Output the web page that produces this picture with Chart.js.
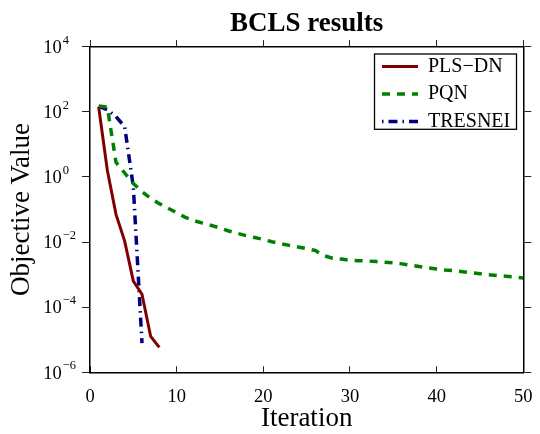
<!DOCTYPE html>
<html><head><meta charset="utf-8">
<script src="https://cdn.jsdelivr.net/npm/chart.js@4.4.1/dist/chart.umd.min.js"></script>
<style>html,body{margin:0;padding:0;background:#fff}#wrap{width:540px;height:434px}</style>
</head><body><div id="wrap"><canvas id="c" width="540" height="434"></canvas></div>
<script>
// ---- data ----
const seriesLabels = ['PLS\u2212DN', 'PQN', 'TRESNEI'];

const plsIter   = [1, 2, 3, 4, 5, 6, 7, 8];
const plsValues = [141, 1.6, 0.071, 0.0107, 6.3e-4, 2.5e-4, 1.26e-5, 5.8e-6];

const pqnIter = [1, 2, 3, 4, 5, 6, 7, 8, 9, 10,
                 11, 12, 13, 14, 15, 16, 17, 18, 19, 20,
                 21, 22, 23, 24, 25, 26, 27, 28, 29, 30,
                 31, 32, 33, 34, 35, 36, 37, 38, 39, 40,
                 41, 42, 43, 44, 45, 46, 47, 48, 49, 50];
const pqnValues = [151, 140, 2.8, 1.32, 0.63, 0.355, 0.219, 0.151, 0.110, 0.0794,
                   0.0575, 0.0457, 0.0380, 0.0324, 0.0269, 0.0219, 0.0186, 0.0158, 0.0138, 0.0120,
                   0.0102, 0.0089, 0.0079, 0.0071, 0.0063, 0.0055, 0.0038, 0.0032, 0.0030, 0.00275,
                   0.00269, 0.00263, 0.00251, 0.00240, 0.00229, 0.00214, 0.00195, 0.00178, 0.00162, 0.00148,
                   0.00138, 0.00132, 0.00123, 0.00115, 0.00107, 0.00100, 0.00093, 0.00089, 0.00085, 0.00079];

const tresIter   = [1, 2, 3, 4, 5, 6];
const tresValues = [148, 117, 71, 35, 0.5, 7.9e-6];

const xTicks = [0, 10, 20, 30, 40, 50];
const yTickValues = [1e-6, 1e-4, 1e-2, 1, 1e2, 1e4];
const yTickExponents = ['\u22126', '\u22124', '\u22122', '0', '2', '4'];

// ---- chart ----
const serif = "'Liberation Serif', 'Times New Roman', serif";
const pts = (xs, ys) => xs.map((x, i) => ({x: x, y: ys[i]}));

const yLabelPlugin = {
  id: 'yLabels',
  afterDraw(chart) {
    const s = chart.scales.y, ctx = chart.ctx;
    ctx.save();
    ctx.fillStyle = '#000';
    ctx.textAlign = 'left';
    ctx.textBaseline = 'alphabetic';
    s.ticks.forEach((t, i) => {
      const py = s.getPixelForValue(t.value);
      const x0 = s.right - 46.7;
      ctx.font = '18.5px ' + serif;
      ctx.fillText('10', x0, py + 6.3);
      const w = ctx.measureText('10').width;
      ctx.font = '12.5px ' + serif;
      ctx.fillText(yTickExponents[i], x0 + w + 1, py - 3);
    });
    ctx.restore();
  }
};

const legendPlace = {
  id: 'legendPlace',
  afterLayout(chart) {
    const lg = chart.legend;
    if (!lg) return;
    const ca = chart.chartArea;
    lg.left = ca.right - 148.8;
    lg.top = ca.top + 2.3;
    lg.width = 146; lg.height = 90;
    lg.right = lg.left + lg.width;
    lg.bottom = lg.top + lg.height;
  },
  afterDraw(chart) {
    const lg = chart.legend, ctx = chart.ctx;
    ctx.save();
    ctx.strokeStyle = '#000';
    ctx.lineWidth = 1.3;
    ctx.setLineDash([]);
    ctx.strokeRect(lg.left, lg.top + 5, 142, 75.3);
    ctx.restore();
  }
};

const legendDashOffsets = [0, 0, 14];
const makeLegendItems = (chart) => {
  const items = Chart.defaults.plugins.legend.labels.generateLabels(chart);
  items.forEach(it => {
    const ds = chart.data.datasets[it.datasetIndex];
    it.lineDash = ds.borderDash || [];
    it.lineDashOffset = legendDashOffsets[it.datasetIndex];
    it.lineWidth = ds.borderWidth;
    it.strokeStyle = ds.borderColor;
    it.fillStyle = ds.borderColor;
    it.lineCap = 'butt';
    it.pointStyle = 'line';
  });
  return items;
};

const axisBorder = {display: true, color: '#000', width: 1.5};
const tickGrid = (len) => ({drawOnChartArea: false, drawTicks: true, tickLength: len, color: '#222', lineWidth: 1});

new Chart(document.getElementById('c'), {
  type: 'line',
  data: {
    datasets: [
      {label: seriesLabels[0], data: pts(plsIter, plsValues), borderColor: '#800000', backgroundColor: '#800000',
       borderWidth: 3, pointRadius: 0, fill: false, tension: 0},
      {label: seriesLabels[1], data: pts(pqnIter, pqnValues), borderColor: '#008000', backgroundColor: '#008000',
       borderWidth: 3.5, borderDash: [8, 7], pointRadius: 0, fill: false, tension: 0},
      {label: seriesLabels[2], data: pts(tresIter, tresValues), borderColor: '#000080', backgroundColor: '#000080',
       borderWidth: 3.5, borderDash: [9, 5, 1.5, 5], pointRadius: 0, fill: false, tension: 0}
    ]
  },
  options: {
    responsive: false,
    animation: false,
    devicePixelRatio: 1,
    layout: {padding: 0},
    plugins: {
      title: {display: true, text: 'BCLS results', fullSize: false, color: '#000',
              font: {family: serif, size: 27, weight: 'bold', lineHeight: 1.2}, padding: {top: 7.7, bottom: 0}},
      legend: {position: 'chartArea', align: 'start',
               labels: {usePointStyle: true, pointStyle: 'line', pointStyleWidth: 36, boxHeight: 20,
                        font: {family: serif, size: 20}, color: '#000', padding: 7.5,
                        generateLabels: makeLegendItems}},
      tooltip: {enabled: false}
    },
    scales: {
      x: {type: 'linear', position: 'bottom', min: 0, max: 50,
          afterBuildTicks: s => { s.ticks = xTicks.map(v => ({value: v})); },
          afterFit: s => { s.height = 61.7; },
          ticks: {color: '#000', font: {family: serif, size: 18.5, lineHeight: 2.6}, padding: 7, maxRotation: 0, autoSkip: false,
                  callback: v => String(v)},
          grid: tickGrid(-6),
          border: axisBorder,
          title: {display: true, text: 'Iteration', color: '#000', font: {family: serif, size: 27, lineHeight: 1.1}, padding: 0}},
      x2: {type: 'linear', position: 'top', min: 0, max: 50,
           afterBuildTicks: s => { s.ticks = xTicks.map(v => ({value: v})); },
           afterFit: s => { s.height = 6.6; },
           ticks: {display: false},
           grid: tickGrid(6.6),
           border: axisBorder},
      y: {type: 'logarithmic', position: 'left', min: 1e-6, max: 1e4,
          afterBuildTicks: s => { s.ticks = yTickValues.map(v => ({value: v})); },
          afterFit: s => { s.width = 90; },
          ticks: {display: false},
          grid: tickGrid(8),
          border: axisBorder,
          title: {display: true, text: 'Objective Value', color: '#000', font: {family: serif, size: 27, lineHeight: 1.2},
                  padding: {top: 6, bottom: 0}}},
      y2: {type: 'logarithmic', position: 'right', min: 1e-6, max: 1e4,
           afterBuildTicks: s => { s.ticks = yTickValues.map(v => ({value: v})); },
           afterFit: s => { s.width = 16.7; },
           ticks: {display: false},
           grid: tickGrid(8),
           border: axisBorder}
    }
  },
  plugins: [yLabelPlugin, legendPlace]
});
</script>
</body></html>
